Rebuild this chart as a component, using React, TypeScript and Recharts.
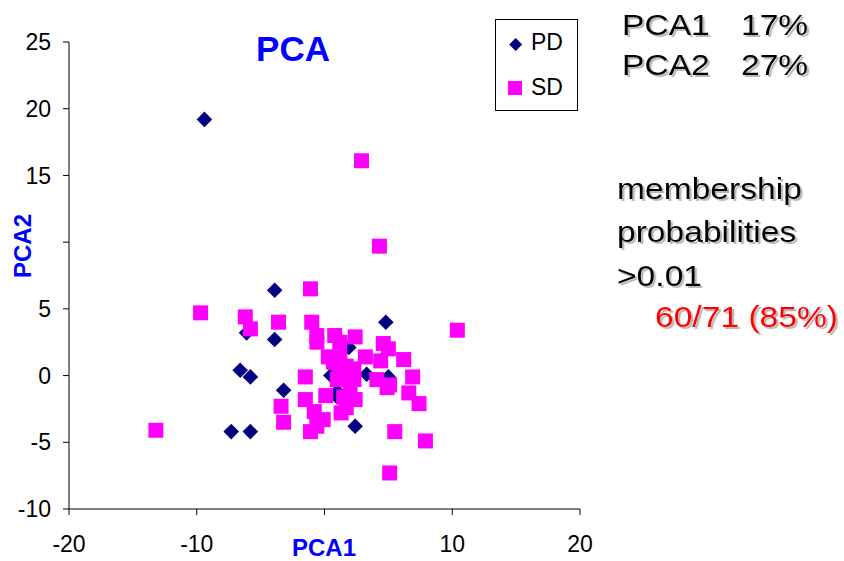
import { ScatterChart, Scatter, XAxis, YAxis, Legend } from "recharts";

const xTicks = [-20, -10, 0, 10, 20];
const yTicks = [-10, -5, 0, 5, 10, 15, 20, 25];

// PD group (diamonds)
const pdPca1 = [-9.4, -3.9, 4.8, -6.1, -3.9, -6.6, -5.8, -3.2, -7.3, -5.8, 2.4, 1.9, 0.5, 3.3, 5.0, 1.0, 1.0];
const pdPca2 = [19.2, 6.4, 4.0, 3.2, 2.7, 0.4, -0.1, -1.1, -4.2, -4.2, -3.8, 2.1, 0.0, 0.1, -0.1, -1.2, -1.6];

// SD group (squares)
const sdPca1 = [
  2.9, 4.3, -9.7, -13.2, 10.4, 5.1, 7.9, -1.1, -6.2, -5.8, -3.6, -1.0, -0.6, -0.6, 0.8, 2.4, 1.2,
  0.3, 1.2, 3.2, 4.6, 5.0, 4.4, 6.2, 1.7, 1.2, 2.3, 4.1, 6.9, 4.9, 5.1, 6.6, 7.4, -1.5, -1.5,
  0.1, -3.4, -3.2, -0.8, -0.1, -1.1, -0.6, 1.3, 2.4, 2.0, 1.7, 5.5, 1.0, 0.7, 2.3, 1.5,
];
const sdPca2 = [
  16.1, 9.7, 4.7, -4.1, 3.4, -7.3, -4.9, 6.5, 4.4, 3.5, 4.0, 4.0, 3.0, 2.5, 3.0, 2.9, 2.5,
  1.4, 1.4, 1.4, 2.4, 2.0, 1.1, 1.2, 0.7, 0.2, 0.5, -0.3, -0.1, -0.9, -0.7, -1.3, -2.1, -0.1, -1.8,
  -1.5, -2.3, -3.5, -2.7, -3.3, -4.2, -3.8, -2.8, -1.8, -0.8, -2.4, -4.2, -0.3, 1.0, -0.3, -1.6,
];

const pdData = pdPca1.map((x, i) => ({ x, y: pdPca2[i] }));
const sdData = sdPca1.map((x, i) => ({ x, y: sdPca2[i] }));

const NAVY = "#000080";
const MAGENTA = "#FF00FF";
const FONT = "'Liberation Sans', Arial, sans-serif";

const Diamond = (p: any) => {
  const { cx, cy } = p;
  const r = 7.8;
  return <path d={`M${cx},${cy - r}L${cx + r},${cy}L${cx},${cy + r}L${cx - r},${cy}Z`} fill={NAVY} />;
};

const Square = (p: any) => (
  <rect x={p.cx - 7.5} y={p.cy - 7.5} width={15} height={15} fill={MAGENTA} />
);

const LegendBox = () => (
  <svg width={83} height={92} style={{ display: "block" }}>
    <rect x={0.5} y={0.5} width={82} height={91} fill="#fff" stroke="#000" />
    <path d="M20.7,19L27.2,25.5L20.7,32L14.2,25.5Z" fill={NAVY} />
    <text x={36} y={31} fontSize={23} fontFamily={FONT} fill="#000">PD</text>
    <rect x={13} y={62} width={14} height={14} fill={MAGENTA} />
    <text x={36} y={76} fontSize={23} fontFamily={FONT} fill="#000">SD</text>
  </svg>
);

// note text with a soft grey drop shadow, slightly stretched like the slide font
const Note = ({ x, y, fill = "#000", children }: any) => (
  <g transform={`translate(${x},${y}) scale(1.12,1)`}>
    <text x={0} y={0} fill={fill} filter="url(#shadow)">{children}</text>
  </g>
);

export default function App() {
  return (
    <div style={{ position: "relative", width: 844, height: 561, background: "#fff", fontFamily: FONT }}>
      <style>{"body{margin:0}"}</style>
      <ScatterChart width={844} height={561} margin={{ top: 42, right: 264, bottom: 0, left: 0 }}>
        <XAxis
          type="number"
          dataKey="x"
          domain={[-20, 20]}
          ticks={xTicks}
          interval={0}
          height={52}
          stroke="#000"
          tickSize={6}
          tickMargin={21}
          tick={{ fontSize: 23, fill: "#000", fontFamily: FONT }}
          tickFormatter={(v: number) => (v === 0 ? "" : String(v))}
        />
        <YAxis
          type="number"
          dataKey="y"
          domain={[-10, 25]}
          ticks={yTicks}
          interval={0}
          width={69}
          stroke="#000"
          tickSize={6}
          tickMargin={12}
          tick={{ fontSize: 23, fill: "#000", fontFamily: FONT }}
          tickFormatter={(v: number) => (v === 10 ? "" : String(v))}
        />
        <Legend
          layout="vertical"
          align="center"
          verticalAlign="middle"
          content={() => <LegendBox />}
          wrapperStyle={{ position: "absolute", left: 495, top: 19, width: 83, height: 92 }}
        />
        <Scatter name="PD" data={pdData} shape={Diamond} isAnimationActive={false} />
        <Scatter name="SD" data={sdData} shape={Square} isAnimationActive={false} />
      </ScatterChart>

      <svg
        width={844}
        height={561}
        style={{ position: "absolute", left: 0, top: 0, pointerEvents: "none" }}
        fontFamily={FONT}
      >
        <defs>
          <filter id="shadow" x="-5%" y="-20%" width="115%" height="150%">
            <feDropShadow dx={2} dy={2} stdDeviation={0.6} floodColor="#808080" floodOpacity={0.55} />
          </filter>
        </defs>
        <text x={293} y={61} textAnchor="middle" fontSize={35} fontWeight="bold" fill="#0000FF">PCA</text>
        <text x={324} y={556} textAnchor="middle" fontSize={24} fontWeight="bold" fill="#0000FF">PCA1</text>
        <text
          transform="translate(31,246) rotate(-90)"
          textAnchor="middle"
          fontSize={24}
          fontWeight="bold"
          fill="#0000FF"
        >
          PCA2
        </text>

        <g fontSize={30}>
          <Note x={622} y={35}>PCA1</Note>
          <Note x={741} y={35}>17%</Note>
          <Note x={622} y={75}>PCA2</Note>
          <Note x={741} y={75}>27%</Note>
          <Note x={617} y={199}>membership</Note>
          <Note x={617} y={242}>probabilities</Note>
          <Note x={617} y={286}>&gt;0.01</Note>
          <Note x={655} y={327} fill="#FF0000">60/71 (85%)</Note>
        </g>
      </svg>
    </div>
  );
}
